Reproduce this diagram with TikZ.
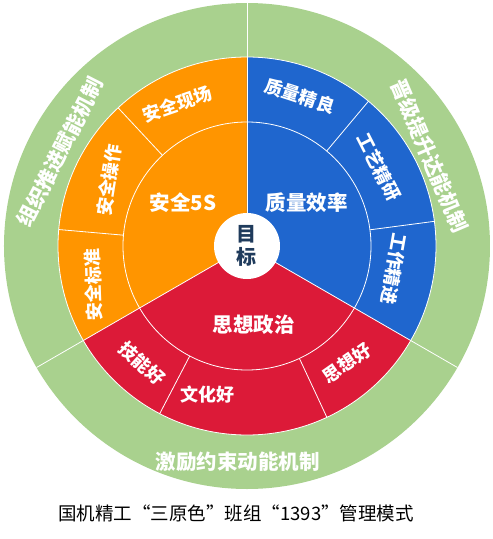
\documentclass[tikz,border=0pt]{standalone}
\usepackage{fontspec}
\setmainfont{Noto Sans CJK SC}
\usepackage{tikz}
\definecolor{ringGreen}{HTML}{A9D18E}
\definecolor{safeOrange}{HTML}{FF9500}
\definecolor{qualBlue}{HTML}{1F66CE}
\definecolor{thinkRed}{HTML}{DC1A38}
\definecolor{goalInk}{HTML}{1F3B5C}

\begin{document}
\begin{tikzpicture}[
    x=1pt, y=1pt,
    divider/.style={white, line width=0.8pt},
    hub/.style={text=white, inner sep=0pt, font=\bfseries\fontsize{20.5}{20.5}\selectfont},
    seg/.style={text=white, inner sep=0pt, font=\bfseries\fontsize{18}{18}\selectfont},
    mech/.style={text=white, inner sep=0pt, font=\bfseries\fontsize{20.5}{20.5}\selectfont}
]
\useasboundingbox (-247,246) rectangle (246,-293);
\fill[ringGreen] (0,0) circle (243pt);
\foreach \a/\b/\col in {90/210/safeOrange, 210/330/thinkRed, -30/90/qualBlue}
    \fill[\col] (0,0) -- (\a:189pt) arc[start angle=\a, end angle=\b, radius=189pt] -- cycle;
\draw[divider] (0,0) circle (189pt) (0,0) circle (124pt);
\foreach \a in {90,210,330}
    \draw[divider] (0,0) -- (\a:243pt);
\foreach \a in {133,175,242.5,295,7.5,50}
    \draw[divider] (\a:124pt) -- (\a:189pt);
\fill[white] (0,0) circle (33pt);

\node[text=goalInk, align=center, inner sep=0pt, font=\bfseries\fontsize{20}{23}\selectfont] (goal) at (0,0) {目\\标};

\node[hub] (safe) at (-64,43) {安全5S};
\node[hub] (quality) at (60,43) {质量效率};
\node[hub] (thought) at (7,-79) {思想政治};

\node[seg, rotate=19] (site) at (-70,142) {安全现场};
\node[seg, rotate=81] (operate) at (-138,66) {安全操作};
\node[seg, rotate=92] (standard) at (-153.5,-39) {安全标准};
\node[seg, rotate=-18] (fine) at (53,150) {质量精良};
\node[seg, rotate=-63] (craft) at (132,79) {工艺精研};
\node[seg, rotate=-100] (work) at (147,-23) {工作精进};
\node[seg, rotate=-42] (skill) at (-105,-117) {技能好};
\node[seg] (culture) at (-39,-149) {文化好};
\node[seg, rotate=35] (mind) at (100,-117) {思想好};

\node[mech, rotate=63] (organize) at (-187,94) {组织推进赋能机制};
\node[mech, rotate=-67] (promote) at (183,90) {晋级提升达能机制};
\node[mech] (motivate) at (-9,-216) {激励约束动能机制};

\node[inner sep=0pt, font=\fontsize{18.5}{18.5}\selectfont] (title) at (-11,-267) {国机精工“三原色”班组“1393”管理模式};
\end{tikzpicture}
\end{document}
